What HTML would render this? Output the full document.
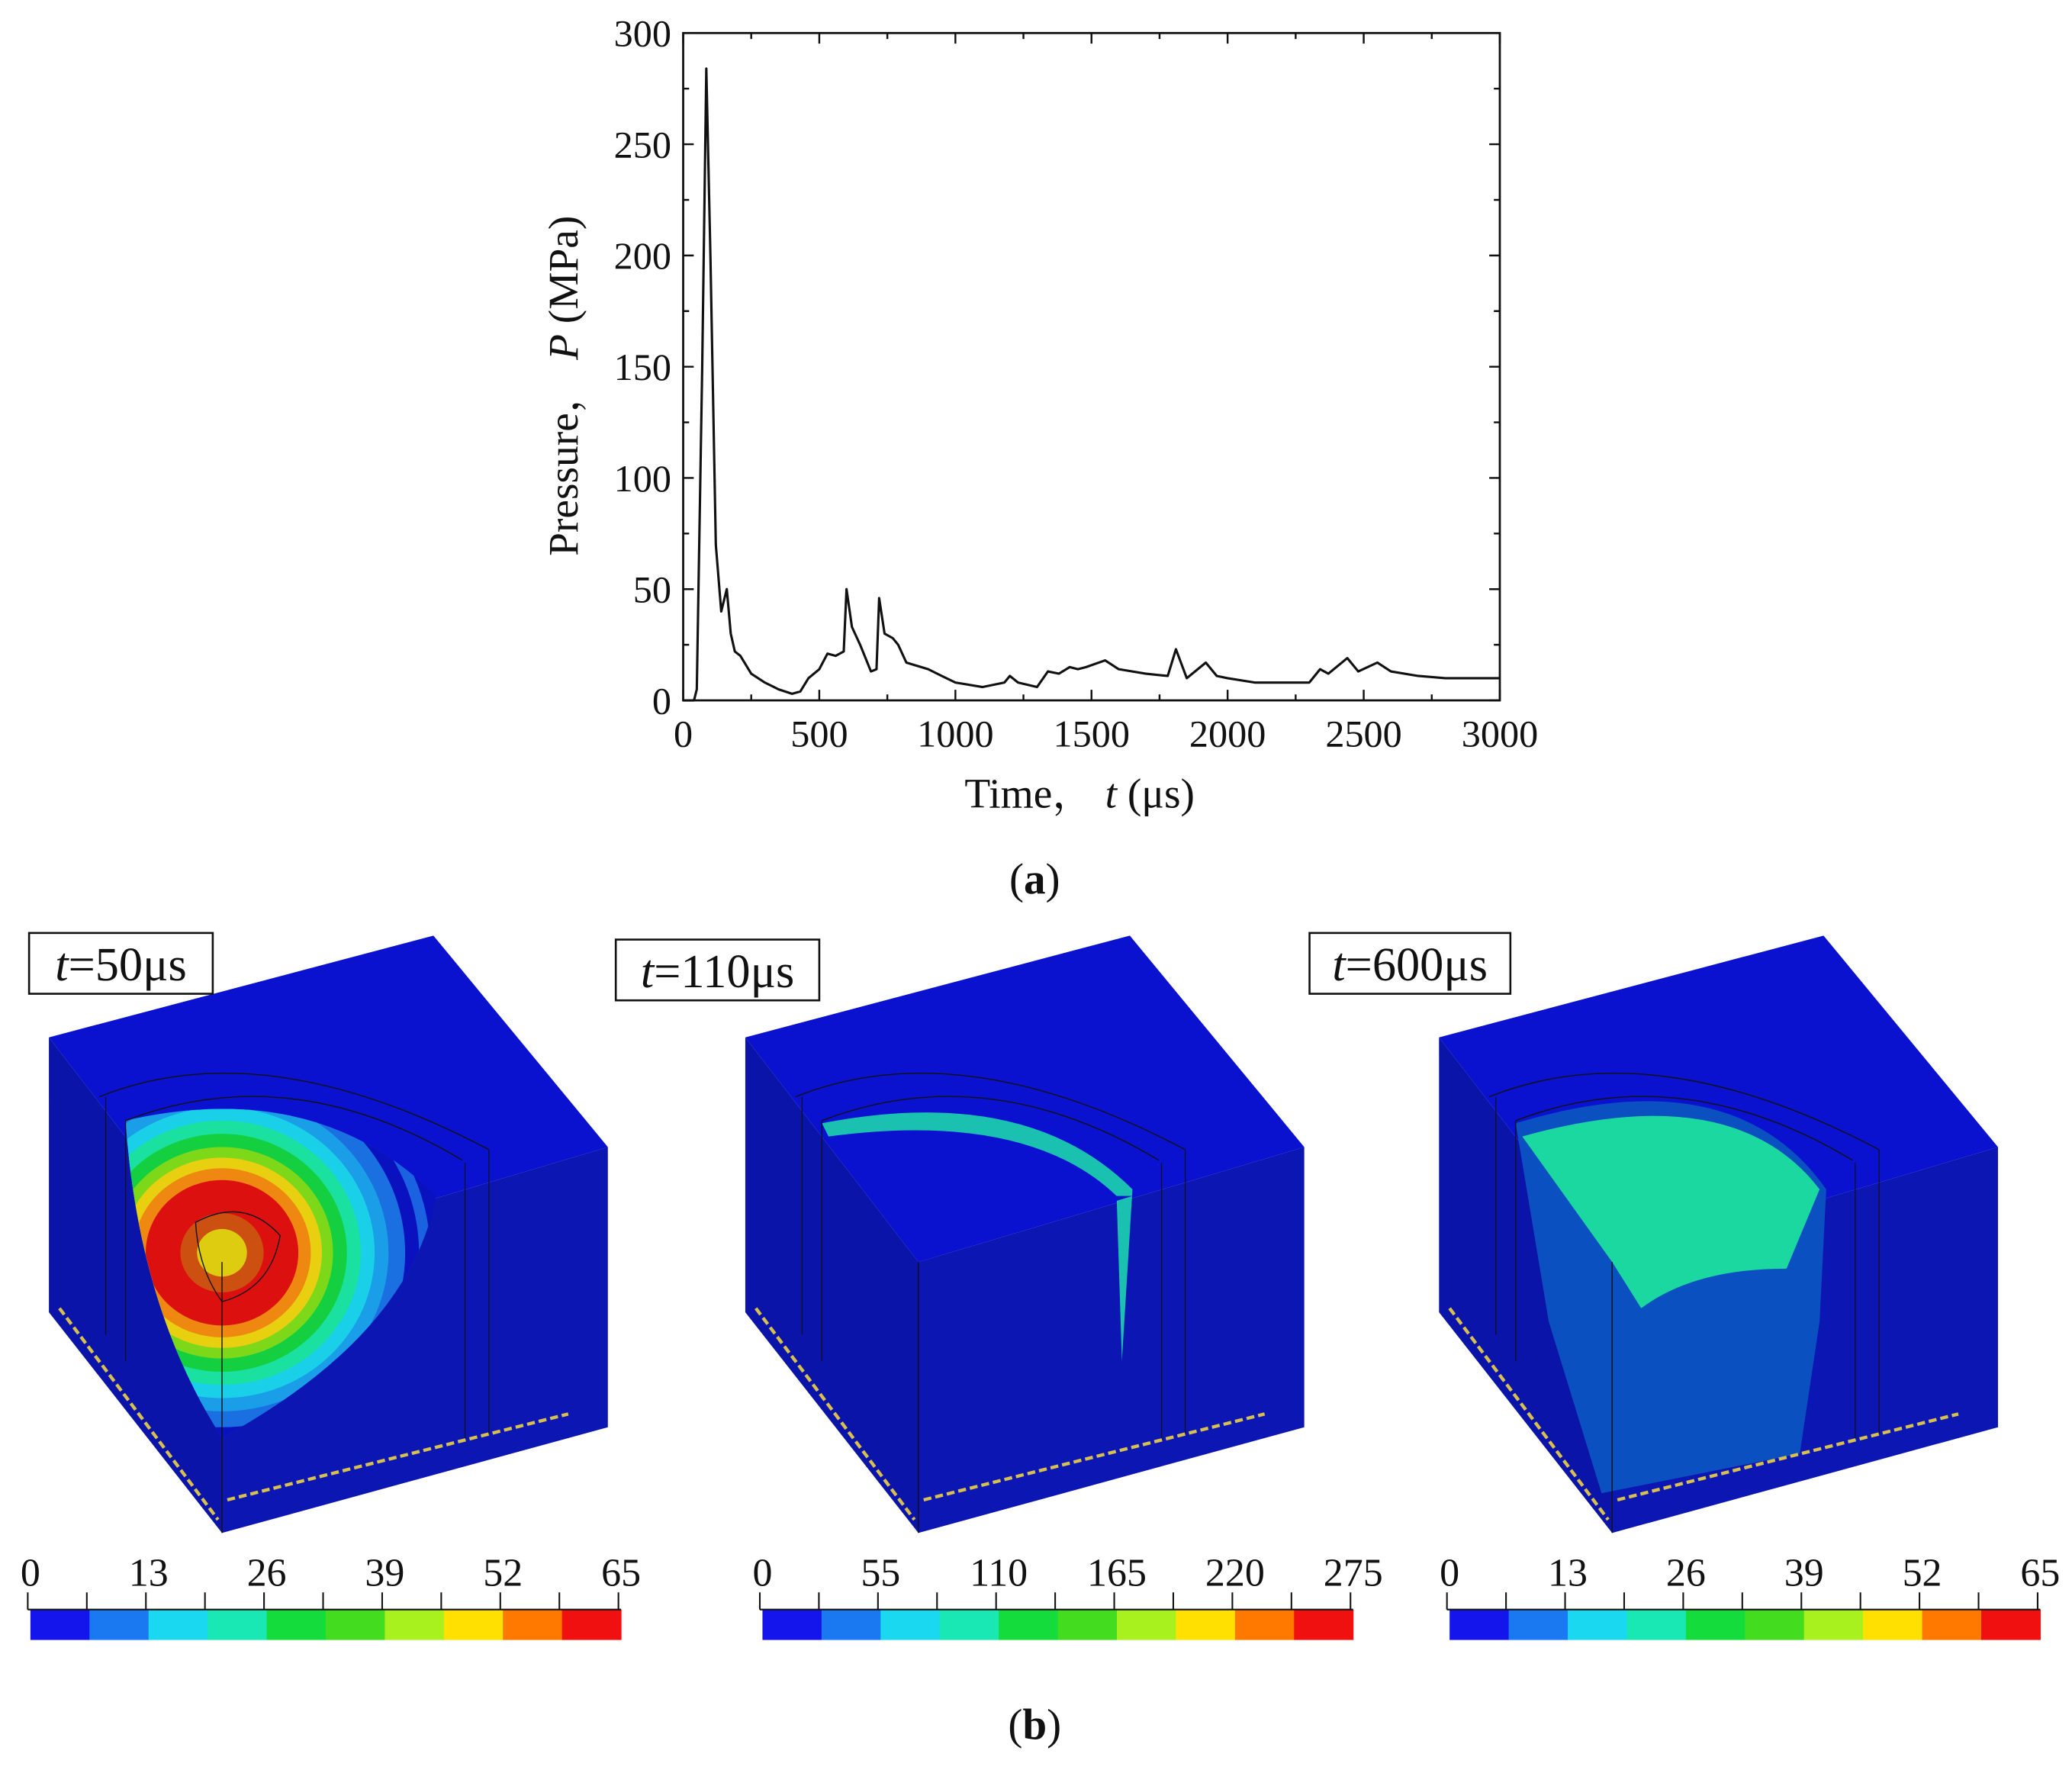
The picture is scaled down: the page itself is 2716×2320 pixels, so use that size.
<!DOCTYPE html>
<html><head><meta charset="utf-8"><style>
html,body{margin:0;padding:0;background:#fff}
svg{display:block}
text{font-family:"Liberation Serif","Noto Serif CJK SC",serif;fill:#111}
</style></head><body>
<svg id="fig" width="2716" height="2320" viewBox="0 0 1568 1339.4" xmlns="http://www.w3.org/2000/svg">
<g id="chart"></g>
<text x="783" y="676" text-anchor="middle" font-size="33">(<tspan font-weight="bold">a</tspan>)</text>
<text x="783" y="1316" text-anchor="middle" font-size="33">(<tspan font-weight="bold">b</tspan>)</text>
<g id="panels"></g>
</svg>
<script>
const NS="http://www.w3.org/2000/svg";
const times=[0,40,50,70,85,100,120,140,160,175,190,210,250,300,350,400,430,460,500,530,560,590,600,620,650,690,710,720,740,770,790,820,900,950,1000,1100,1180,1200,1230,1300,1340,1380,1420,1450,1480,1550,1600,1700,1780,1810,1850,1920,1960,2000,2100,2200,2300,2340,2370,2440,2480,2550,2600,2700,2800,2900,3000];
const pressure=[0,0,5,150,284,200,70,40,50,30,22,20,12,8,5,3,4,10,14,21,20,22,50,33,25,13,14,46,30,28,25,17,14,11,8,6,8,11,8,6,13,12,15,14,15,18,14,12,11,23,10,17,11,10,8,8,8,14,12,19,13,17,13,11,10,10,10];
const xTicks=[0,500,1000,1500,2000,2500,3000];
const yTicks=[0,50,100,150,200,250,300];
const X0=517,X1=1135,Y0=530,Y1=25;
const xs=v=>X0+(v-0)/3000*(X1-X0);
const ys=v=>Y0-(v-0)/300*(Y0-Y1);
function el(tag,attrs,parent){const e=document.createElementNS(NS,tag);for(const k in attrs)e.setAttribute(k,attrs[k]);parent.appendChild(e);return e;}
const chart=document.getElementById('chart');
let frame=el('rect',{x:X0,y:Y1,width:X1-X0,height:Y0-Y1,fill:'none',stroke:'#111','stroke-width':1.6},chart);


for(let v=0;v<=3000;v+=250){const major=v%500===0;const L=major?8:4.5;
 let t=el('path',{d:`M${xs(v)},${Y0}v${-L}M${xs(v)},${Y1}v${L}`,stroke:'#111','stroke-width':1.4},chart);
 
 }
for(let v=0;v<=300;v+=25){const major=v%50===0;const L=major?8:4.5;
 let t=el('path',{d:`M${X0},${ys(v)}h${L}M${X1},${ys(v)}h${-L}`,stroke:'#111','stroke-width':1.4},chart);
 
 }
xTicks.forEach(v=>{let t=el('text',{x:xs(v),y:Y0+35,'text-anchor':'middle','font-size':29},chart);t.textContent=v;
 
 });
yTicks.forEach(v=>{let t=el('text',{x:X0-9,y:ys(v)+10,'text-anchor':'end','font-size':29},chart);t.textContent=v;
 
 });
let xl=el('text',{x:817,y:611,'text-anchor':'middle','font-size':32},chart);
xl.innerHTML='Time\uff0c <tspan font-style="italic">t</tspan> (\u03bcs)';


let yl=el('text',{x:0,y:0,'text-anchor':'middle','font-size':32,transform:'translate(437,292) rotate(-90)'},chart);
yl.innerHTML='Pressure\uff0c <tspan font-style="italic">P</tspan> (MPa)';


let d=times.map((t,i)=>(i?'L':'M')+xs(t).toFixed(1)+','+ys(pressure[i]).toFixed(1)).join('');
let line=el('path',{d:d,fill:'none',stroke:'#111','stroke-width':1.8,'stroke-linejoin':'round'},chart);



const panels=document.getElementById('panels');
const cbColors=['#1414ec','#1a78f0','#1ad8f0','#1ae8b4','#14dc3c','#44dc1e','#a8f01e','#ffe000','#ff7800','#f01010'];
const panelLabels=['t=50\u03bcs','t=110\u03bcs','t=600\u03bcs'];
const cbLabels=[['0','13','26','39','52','65'],['0','55','110','165','220','275'],['0','13','26','39','52','65']];
const offs=[0,527,1052];
const cbX=[23,577,1097];
offs.forEach((o,p)=>{
 const g=el('g',{transform:`translate(${o},0)`},panels);
 
 
 el('polygon',{points:'37,785 168,955 168,1160 37,993',fill:'#0b14a8'},g);
 el('polygon',{points:'168,955 460,868 460,1080 168,1160',fill:'#0c16b2'},g);
 el('polygon',{points:'37,785 328,708 460,868 168,955',fill:'#0a12d0'},g);
 if(p===0){
  el('clipPath',{id:'c1'},g).innerHTML='<path d="M95,848 Q240,815 330,905 Q310,1010 168,1088 Q105,990 95,848 Z"/>';
  const cg=el('g',{'clip-path':'url(#c1)'},g);
  [[240,'#0a12c0'],[150,'#1a62e0'],[142,'#0a12c0'],[132,'#1a70e0'],[120,'#1a9ee8'],[110,'#1ad0e8'],[100,'#1ae0a0'],[90,'#14d040'],[80,'#7ed81a'],[72,'#e8d010'],[64,'#ee8810'],[55,'#dd1010'],[30,'#cc5010'],[18,'#ddcc10']].forEach(([r,c])=>el('ellipse',{cx:168,cy:948,rx:r*1.05,ry:r,fill:c},cg));
  el('path',{d:'M148,925 Q185,905 212,935 Q205,975 168,985 Q150,960 148,925Z',fill:'none',stroke:'#111','stroke-width':0.8},g);
 } else if(p===1){
  el('path',{d:'M95,850 Q250,820 330,900 L322,1030 L318,905 Q250,840 100,860 Z',fill:'#1ac0b0'},g);
  el('polygon',{points:'168,955 330,905 318,905 100,860',fill:'#0a12d0'},g);
 } else {
  el('path',{d:'M95,850 Q260,800 330,900 L325,1000 L310,1100 L160,1130 L120,1000 Z',fill:'#0a50c0'},g);
  el('path',{d:'M100,860 Q260,815 325,900 L300,960 Q230,960 190,990 L168,955 Z',fill:'#1ad8a0'},g);
 }
 el('path',{d:'M75,830 Q200,780 370,870 M95,848 Q220,800 350,878',fill:'none',stroke:'#111','stroke-width':0.8},g);
 el('path',{d:'M80,830V1010M95,848V1030M352,880V1090M370,870V1085',stroke:'#111','stroke-width':0.7},g);
 el('path',{d:'M168,955V1160',stroke:'#111','stroke-width':0.8},g);
 el('path',{d:'M172,1135L430,1070M45,990L165,1150',stroke:'#d8c050','stroke-width':2.5,'stroke-dasharray':'6 3'},g);
 const bx=[22,466-527,991-1052][p];
 const bw=[139,154,152][p], by=[706,711,706][p];
 let box=el('rect',{x:bx,y:by,width:bw,height:46,fill:'#fff',stroke:'#111','stroke-width':1.5},g);
 
 
 let tl=el('text',{x:bx+bw/2,y:by+36,'text-anchor':'middle','font-size':36},g);
 tl.innerHTML='<tspan font-style="italic">t</tspan>'+panelLabels[p].slice(1);
 
 
});
cbX.forEach((x0,p)=>{
 const g=el('g',{},panels);
 
 
 const w=44.7;
 cbColors.forEach((c,i)=>el('rect',{x:x0+i*w,y:1218,width:w+0.3,height:23,fill:c},g));
 el('path',{d:`M${x0-2},1218H${x0+10*w}`,stroke:'#111','stroke-width':1.2},g);
 for(let i=0;i<=10;i++)el('path',{d:`M${x0-2+i*w},1205V1218`,stroke:'#111','stroke-width':1.2},g);
 cbLabels[p].forEach((s,i)=>{let t=el('text',{x:x0+i*2*w,y:1200,'text-anchor':'middle','font-size':30},g);t.textContent=s;
  
  });
});
</script>
</body></html>
